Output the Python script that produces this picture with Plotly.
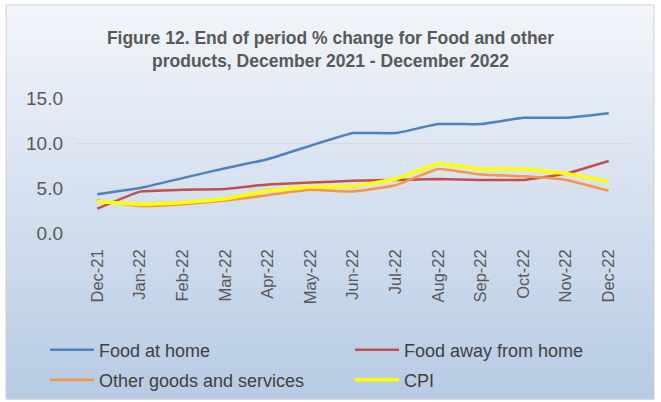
import plotly.graph_objects as go

months = ["Dec-21", "Jan-22", "Feb-22", "Mar-22", "Apr-22", "May-22", "Jun-22",
          "Jul-22", "Aug-22", "Sep-22", "Oct-22", "Nov-22", "Dec-22"]
food_home = [4.3, 5.0, 6.1, 7.2, 8.2, 9.7, 11.1, 11.1, 12.1, 12.1, 12.8, 12.8, 13.3]
food_away = [2.7, 4.6, 4.8, 4.9, 5.4, 5.6, 5.8, 5.9, 6.0, 5.9, 5.9, 6.6, 8.0]
other_goods = [3.6, 3.0, 3.2, 3.6, 4.2, 4.8, 4.6, 5.3, 7.1, 6.5, 6.3, 5.9, 4.7]
cpi = [3.5, 3.2, 3.4, 3.8, 4.7, 5.1, 5.2, 6.0, 7.7, 7.1, 7.1, 6.6, 5.7]

W, H = 661, 402
ML, MR, MT, MB = 76, 31, 98, 169
PW, PH = W - ML - MR, H - MT - MB

def px_x(p):
    return (p - ML) / PW

def px_y(p):
    return (H - MB - p) / PH

fig = go.Figure()
series = [
    ("Food at home", food_home, "#4f81bd", 2.5, "legend", 45, 350),
    ("Food away from home", food_away, "#c0504d", 2.5, "legend2", 350, 350),
    ("Other goods and services", other_goods, "#f79646", 2.5, "legend3", 45, 380),
    ("CPI", cpi, "#ffff00", 3.5, "legend4", 350, 380),
]
legends = {}
for name, vals, color, w, lg, lx, ly in series:
    fig.add_trace(go.Scatter(x=months, y=vals, name=name, mode="lines", legend=lg,
                             line=dict(color=color, width=w, shape="spline", smoothing=0.3)))
    legends[lg] = dict(orientation="h", xanchor="left", yanchor="middle",
                       x=px_x(lx), y=px_y(ly),
                       font=dict(size=18, color="#404040"), bgcolor="rgba(0,0,0,0)",
                       itemwidth=44)

# gradient background via bands
shapes = []
x0, x1, y0, y1 = 6, 654, 5, 399
n = 60
top = (242, 245, 250)
bot = (183, 203, 228)
for i in range(n):
    t = i / (n - 1)
    c = tuple(int(round(top[k] + (bot[k] - top[k]) * t)) for k in range(3))
    ya = y0 + (y1 - y0) * i / n
    yb = y0 + (y1 - y0) * (i + 1) / n + 0.5
    shapes.append(dict(type="rect", xref="paper", yref="paper", layer="below",
                       x0=px_x(x0), x1=px_x(x1), y0=px_y(ya), y1=px_y(yb),
                       fillcolor="rgb(%d,%d,%d)" % c, line=dict(width=0)))
shapes.append(dict(type="rect", xref="paper", yref="paper", layer="below",
                   x0=px_x(x0), x1=px_x(x1), y0=px_y(y0), y1=px_y(y1),
                   fillcolor="rgba(0,0,0,0)", line=dict(color="#d0d0d0", width=1)))

fig.update_layout(
    width=W, height=H,
    margin=dict(l=ML, r=MR, t=MT, b=MB, autoexpand=False),
    paper_bgcolor="white", plot_bgcolor="rgba(0,0,0,0)",
    shapes=shapes,
    title=dict(text="Figure 12. End of period % change for Food and other<br>products, December 2021 - December 2022",
               x=0.5, xref="container", xanchor="center", y=0.89, yanchor="top",
               font=dict(family="Liberation Sans", size=17.5, color="#595959", weight="bold")),
    font=dict(family="Liberation Sans", color="#595959"),
    xaxis=dict(type="category", range=[-0.5, 12.5], showgrid=False, zeroline=False,
               tickangle=-90, tickfont=dict(size=16.5, color="#595959"), ticks="",
               showline=False, ticklabelstandoff=12, automargin=False),
    yaxis=dict(range=[0, 15], dtick=5, tickformat=".1f", showgrid=True, gridcolor="#d9d9d9",
               gridwidth=1, zeroline=False, tickfont=dict(size=19, color="#595959"),
               ticks="", ticklabelstandoff=12, automargin=False),
    showlegend=True,
    **legends,
)
fig.write_html("out.html")
